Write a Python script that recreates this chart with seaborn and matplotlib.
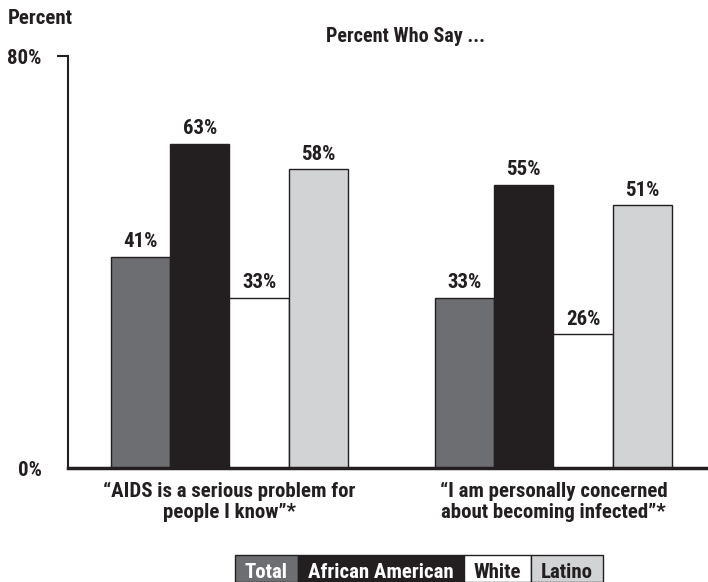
import matplotlib
matplotlib.use("Agg")
import matplotlib.pyplot as plt
import seaborn as sns
import pandas as pd
from matplotlib.patches import Rectangle
from matplotlib import font_manager

# Survey questions (x categories) and respondent groups (hue)
questions = ["\u201cAIDS is a serious problem for\npeople I know\u201d*",
             "\u201cI am personally concerned\nabout becoming infected\u201d*"]
groups = ["Total", "African American", "White", "Latino"]

total = [41, 33]
african_american = [63, 55]
white = [33, 26]
latino = [58, 51]

y_ticks = [0, 80]
y_tick_labels = ["0%", "80%"]

colors = ["#6d6e71", "#231f20", "#ffffff", "#d1d3d4"]
legend_text_colors = ["#ffffff", "#ffffff", "#231f20", "#231f20"]
ink = "#231f20"

sns.set_theme(style="ticks")

# Prefer a condensed bold face
fonts = font_manager.fontManager.ttflist
names = {f.name for f in fonts}
stretch = "normal"
if "Liberation Sans Narrow" in names:
    family = ["Liberation Sans Narrow", "DejaVu Sans"]
elif "Roboto Condensed" in names:
    family = ["Roboto Condensed", "DejaVu Sans"]
elif any(f.name == "DejaVu Sans" and f.stretch == "condensed" and f.weight in ("bold", 700) for f in fonts):
    family = ["DejaVu Sans"]
    stretch = "condensed"
else:
    family = ["Liberation Sans", "DejaVu Sans"]
plt.rcParams["font.family"] = family
plt.rcParams["font.stretch"] = stretch
plt.rcParams["font.weight"] = "bold"
plt.rcParams["text.color"] = ink
plt.rcParams["xtick.color"] = ink
plt.rcParams["ytick.color"] = ink

FS = 15

df = pd.DataFrame({
    "question": questions * 4,
    "group": [g for g in groups for _ in questions],
    "percent": total + african_american + white + latino,
})

W, H = 708, 582
fig = plt.figure(figsize=(W / 100, H / 100), dpi=100)
ax = fig.add_axes([68 / W, 1 - 468 / H, 640 / W, (468 - 56) / H])

sns.barplot(data=df, x="question", y="percent", hue="group",
            order=questions, hue_order=groups, palette=colors,
            width=0.732, saturation=1, edgecolor=ink, linewidth=1,
            legend=False, ax=ax)

for container in ax.containers:
    ax.bar_label(container,
                 labels=[f"{v:.0f}%" for v in container.datavalues],
                 padding=4, fontsize=FS, fontweight="bold", color=ink)

ax.set_xlim(-0.498, 1.477)
ax.set_ylim(0, 80)
ax.set_xlabel("")
ax.set_ylabel("")

ax.set_yticks(y_ticks)
ax.set_yticklabels(y_tick_labels)
ax.tick_params(axis="y", length=8, width=1.5, pad=11, labelsize=FS)
ax.yaxis.get_major_ticks()[0].tick1line.set_visible(False)
ax.tick_params(axis="x", length=0, pad=10, labelsize=FS)
for lbl in ax.get_xticklabels():
    lbl.set_fontweight("bold")
    lbl.set_linespacing(1.12)
for lbl in ax.get_yticklabels():
    lbl.set_fontweight("bold")

for side in ["top", "right"]:
    ax.spines[side].set_visible(False)
ax.spines["left"].set_linewidth(1.5)
ax.spines["left"].set_color(ink)
ax.spines["bottom"].set_linewidth(2.5)
ax.spines["bottom"].set_color(ink)

fig.text(8 / W, 1 - 18 / H, "Percent", fontsize=FS, ha="left", va="center")
fig.text(406 / W, 1 - 36 / H, "Percent Who Say ...", fontsize=14.5,
         ha="center", va="center")

# Legend drawn as a strip of adjoining labelled boxes
renderer = fig.canvas.get_renderer()
pad = 10
texts, widths = [], []
for g, tc in zip(groups, legend_text_colors):
    t = fig.text(0, 0, g, fontsize=FS, color=tc, ha="center", va="center", zorder=3)
    texts.append(t)
    widths.append(t.get_window_extent(renderer).width + 2 * pad)
x0 = 419 - sum(widths) / 2
for t, w, c in zip(texts, widths, colors):
    fig.add_artist(Rectangle((x0 / W, 0), w / W, 27 / H, transform=fig.transFigure,
                             facecolor=c, edgecolor=ink, lw=1, zorder=2))
    t.set_position(((x0 + w / 2) / W, 10 / H))
    x0 += w

fig.savefig("out.png", dpi=100)
